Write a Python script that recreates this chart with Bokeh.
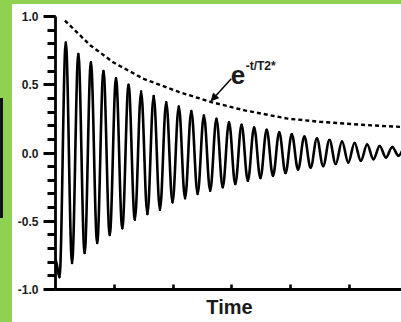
from bokeh.plotting import figure
from bokeh.models import (FixedTicker, Label, Arrow, NormalHead, Div,
                          ColumnDataSource, Range1d)
from bokeh.layouts import row
from bokeh.embed import file_html
from bokeh.resources import INLINE

# ---- data ----
period = 0.2136          # time between successive peaks
t_first_trough = 0.068
t_start = 0.0
v_start = -0.78
peak_vals = [0.810, 0.725, 0.664, 0.601, 0.547, 0.499, 0.450, 0.418, 0.371, 0.340,
             0.308, 0.274, 0.250, 0.225, 0.206, 0.186, 0.170, 0.152, 0.137, 0.121,
             0.106, 0.095, 0.084, 0.073, 0.062, 0.051, 0.044, 0.038]
trough_vals = [-0.909, -0.805, -0.732, -0.659, -0.600, -0.551, -0.488, -0.447, -0.415, -0.361,
               -0.332, -0.300, -0.276, -0.251, -0.227, -0.203, -0.183, -0.167, -0.147, -0.121,
               -0.107, -0.096, -0.081, -0.069, -0.057, -0.045, -0.032, -0.020]

env_t = [0.16, 0.59, 0.98, 1.49, 2.10, 2.65, 3.22, 3.95, 4.51, 4.93, 5.39, 5.92]
env_v = [0.97, 0.79, 0.665, 0.545, 0.447, 0.373, 0.312, 0.252, 0.228, 0.215, 0.202, 0.190]

y_ticks = [-1.0, -0.5, 0.0, 0.5, 1.0]
y_tick_labels = ["-1.0", "-0.5", "0.0", "0.5", "1.0"]
y_minor = [round(-1.0 + 0.1 * i, 1) for i in range(21)]
x_ticks = [1, 2, 3, 4, 5]
x_label = "Time"
annot_main = "e"
annot_sup = "-t/T2*"

GREEN = "#8fd150"

# ---- build extrema sequence ----
ext_t = [t_start]
ext_v = [v_start]
for i in range(len(trough_vals)):
    ext_t.append(t_first_trough + i * period)
    ext_v.append(trough_vals[i])
    if i < len(peak_vals):
        ext_t.append(t_first_trough + i * period + period / 2)
        ext_v.append(peak_vals[i])

k = 0.3642
x0, y0, x1, y1, cx0, cy0, cx1, cy1 = [], [], [], [], [], [], [], []
for a in range(len(ext_t) - 1):
    h = ext_t[a + 1] - ext_t[a]
    x0.append(ext_t[a]); y0.append(ext_v[a])
    x1.append(ext_t[a + 1]); y1.append(ext_v[a + 1])
    cx0.append(ext_t[a] + k * h); cy0.append(ext_v[a])
    cx1.append(ext_t[a + 1] - k * h); cy1.append(ext_v[a + 1])
src = ColumnDataSource(dict(x0=x0, y0=y0, x1=x1, y1=y1, cx0=cx0, cy0=cy0, cx1=cx1, cy1=cy1))

p = figure(width=389, height=322, output_backend="svg", toolbar_location=None,
           x_range=Range1d(0, 5.92), y_range=Range1d(-1.0, 1.0),
           min_border_left=40, min_border_right=0, min_border_top=16, min_border_bottom=33)
p.outline_line_color = None
p.grid.visible = False
p.background_fill_color = "white"
p.border_fill_color = "white"

p.bezier(x0="x0", y0="y0", x1="x1", y1="y1", cx0="cx0", cy0="cy0", cx1="cx1", cy1="cy1",
         source=src, line_color="black", line_width=2.6, line_cap="round")
p.line(env_t, env_v, line_color="black", line_width=2.4, line_dash="4 3")

# y axis
ya = p.yaxis[0]
ya.ticker = FixedTicker(ticks=y_ticks, minor_ticks=y_minor)
ya.major_label_overrides = {t: l for t, l in zip(y_ticks, y_tick_labels)}
ya.axis_line_width = 2.8
ya.major_tick_line_width = 2.8
ya.minor_tick_line_width = 2.8
ya.major_tick_out = 12
ya.major_tick_in = 0
ya.minor_tick_out = 8
ya.minor_tick_in = 0
ya.major_label_standoff = 5
ya.major_label_text_font = "Liberation Sans"
ya.major_label_text_font_style = "bold"
ya.major_label_text_font_size = "12px"
ya.major_label_text_color = "#1a1a1a"

# x axis: unlabeled tick marks drawn as minor ticks
xa = p.xaxis[0]
xa.ticker = FixedTicker(ticks=[], minor_ticks=x_ticks)
xa.axis_line_width = 2.8
xa.minor_tick_line_width = 2.6
xa.minor_tick_in = 5
xa.minor_tick_out = 0
xa.major_tick_in = 0
xa.major_tick_out = 0
xa.major_label_standoff = 0
xa.axis_label = x_label
xa.axis_label_text_font = "Liberation Sans"
xa.axis_label_text_font_style = "bold"
xa.axis_label_text_font_size = "20px"
xa.axis_label_text_color = "#1a1a1a"
xa.axis_label_text_line_height = 0.8
xa.axis_label_standoff = 6

# annotation
p.add_layout(Arrow(end=NormalHead(size=7, fill_color="black", line_color="black"),
                   x_start=2.99, y_start=0.544, x_end=env_t[5], y_end=env_v[5] + 0.01,
                   line_width=1.5, line_color="black"))
p.add_layout(Label(x=2.98, y=0.568, text=annot_main, text_font="Liberation Sans",
                   text_font_style="bold", text_font_size="26px", text_color="#1a1a1a",
                   text_baseline="alphabetic"))
p.add_layout(Label(x=3.235, y=0.641, text=annot_sup, text_font="Liberation Sans",
                   text_font_style="bold", text_font_size="12px", text_color="#1a1a1a",
                   text_baseline="alphabetic"))

# green frame strips (decoration)
deco_html = (
    '<div style="position:fixed;left:0;top:0;width:12px;height:322px;background:%s;z-index:9"></div>'
    '<div style="position:fixed;left:0;top:0;width:401px;height:4px;background:%s;z-index:10"></div>'
    '<div style="position:fixed;left:0;top:98px;width:3px;height:120px;background:#111111;z-index:11"></div>'
    % (GREEN, GREEN)
)
left_strip = Div(width=4, height=322, styles={"background-color": GREEN}, text=deco_html)

layout = row(left_strip, p, spacing=0)

open("out.html", "w").write(file_html(layout, INLINE))
